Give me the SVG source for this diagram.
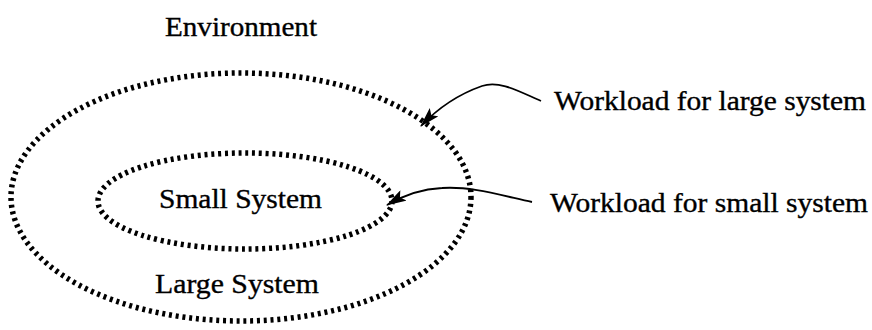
<svg xmlns="http://www.w3.org/2000/svg" width="872" height="330" viewBox="0 0 872 330">
  <style>
    text { font-family: "Liberation Serif", "Times New Roman", serif; font-size: 27px; fill: #000; stroke: #000; stroke-width: 0.35; }
    .boundary { fill: none; stroke: #000; stroke-width: 5.5; stroke-dasharray: 3 3.8; }
    .flow { fill: none; stroke: #000; stroke-width: 1.8; marker-end: url(#head); }
  </style>
  <defs>
    <marker id="head" viewBox="0 0 20 12" refX="19" refY="6" markerWidth="20" markerHeight="12" markerUnits="userSpaceOnUse" orient="auto">
      <path d="M0 0 L20 6 L0 12 L4 6 Z" fill="#000"/>
    </marker>
  </defs>
  <rect width="872" height="330" fill="#fff"/>

  <text x="165" y="36" textLength="152" lengthAdjust="spacingAndGlyphs">Environment</text>

  <!-- outer boundary: the large system -->
  <g id="large-system">
    <ellipse class="boundary" cx="241" cy="197" rx="230" ry="124"/>
    <text x="155" y="293" textLength="164" lengthAdjust="spacingAndGlyphs">Large System</text>
  </g>

  <!-- inner boundary: the small system -->
  <g id="small-system">
    <ellipse class="boundary" cx="245" cy="201" rx="147" ry="48"/>
    <text x="159" y="208" textLength="163" lengthAdjust="spacingAndGlyphs">Small System</text>
  </g>

  <g id="workload-large">
    <text x="554" y="110" textLength="312" lengthAdjust="spacingAndGlyphs">Workload for large system</text>
  </g>

  <g id="workload-small">
    <text x="550" y="212" textLength="318" lengthAdjust="spacingAndGlyphs">Workload for small system</text>
  </g>

  <g id="connectors">
    <path class="flow" d="M541 101 C520 92 500 80 482 86 C462 93 440 106 421 126"/>
    <path class="flow" d="M532 202 C500 195 470 186 442 188 C420 189 404 195 387 205"/>
  </g>
</svg>
